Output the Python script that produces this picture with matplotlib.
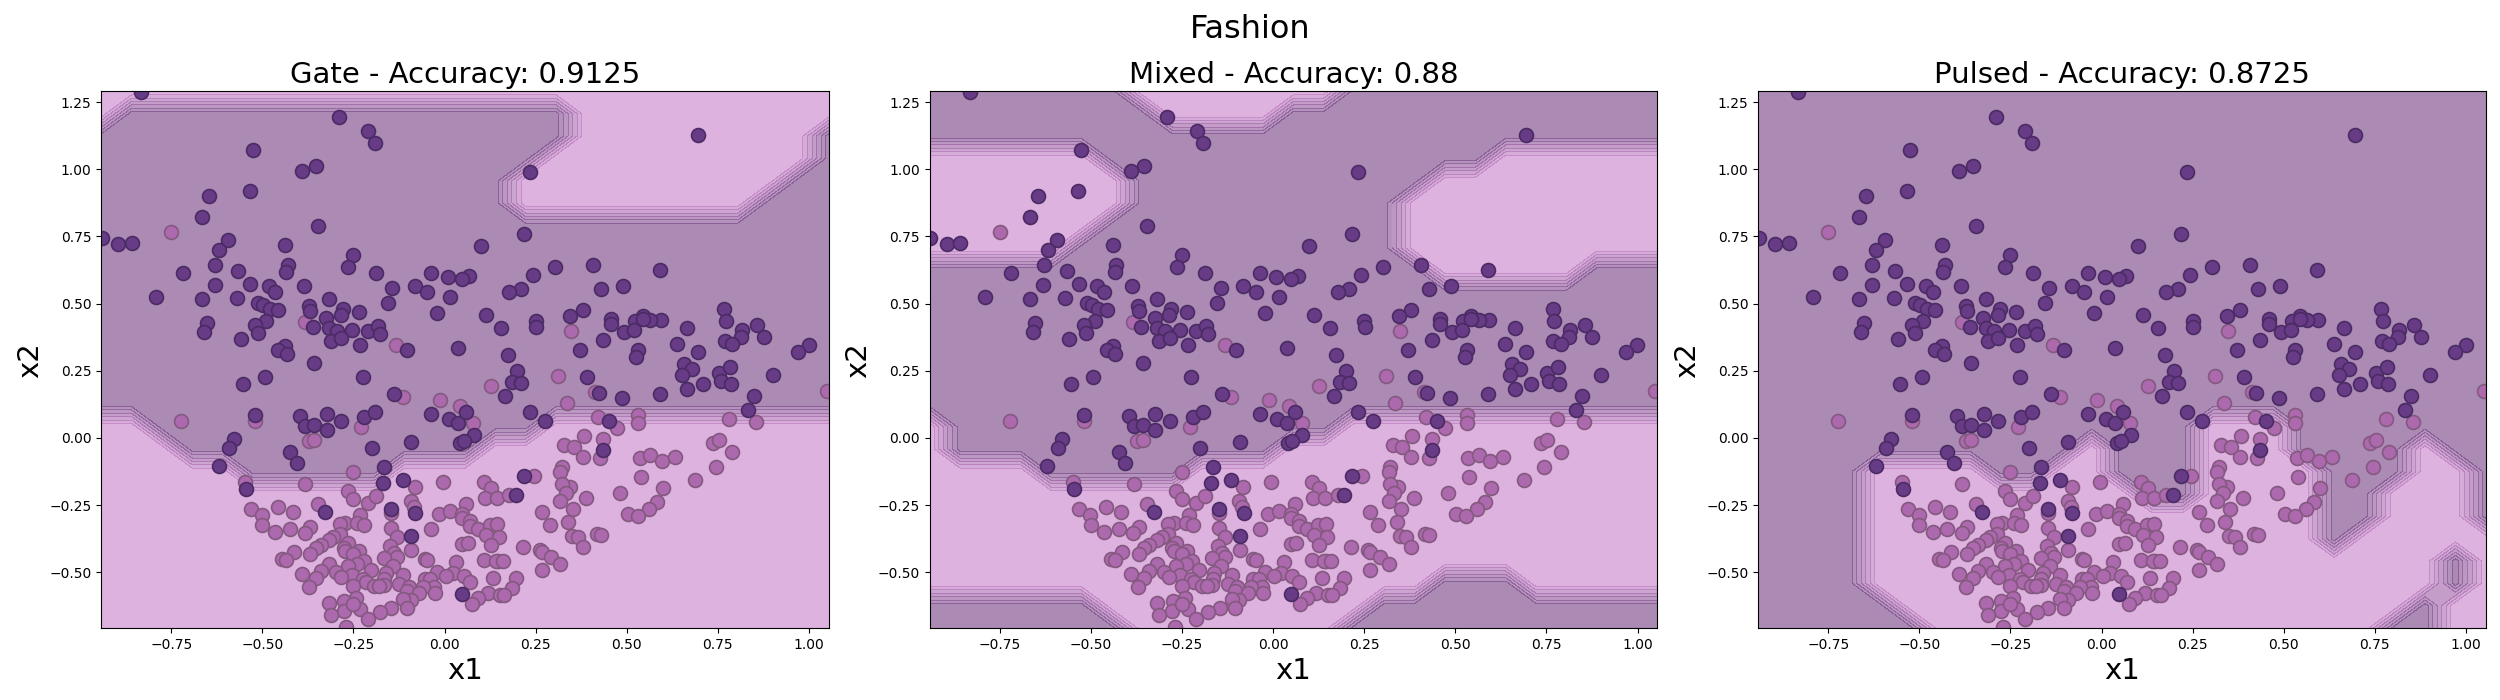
import numpy as np
import matplotlib
matplotlib.use("Agg")
import matplotlib.pyplot as plt
from matplotlib.colors import LinearSegmentedColormap

FIG_TITLE = "Fashion"
PANEL_NAMES = ["Gate", "Mixed", "Pulsed"]
PANEL_ACC = ["0.9125", "0.88", "0.8725"]
X_RANGE = (-0.942, 1.054)
Y_RANGE = (-0.707, 1.29)
GRID_N = 25

# points of the darker class (x1, x2)
DARK_X1 = [-0.833,-0.291,-0.209,-0.192,-0.527,-0.354,-0.391,-0.535,-0.646,-0.667,-0.346,-0.941,-0.896,-0.859,-0.594,-0.619,-0.439,0.099,-0.250,-0.431,-0.629,-0.264,-0.435,-0.719,-0.566,-0.187,-0.037,0.008,0.067,0.048,-0.631,-0.533,-0.483,-0.387,-0.464,-0.143,-0.082,-0.047,-0.791,-0.667,-0.571,-0.511,-0.497,-0.318,0.016,-0.154,-0.371,-0.480,-0.456,-0.368,-0.280,-0.236,-0.285,-0.022,0.113,-0.325,-0.653,-0.489,-0.519,-0.659,-0.513,-0.362,-0.318,-0.296,-0.255,-0.211,-0.184,-0.178,0.156,-0.560,-0.313,-0.283,-0.439,-0.456,-0.233,-0.102,0.038,
0.694,0.233,0.217,0.302,0.406,0.590,0.242,0.209,0.178,0.428,0.489,0.379,0.345,0.768,0.544,0.458,0.593,0.565,0.522,0.544,0.771,0.250,0.252,0.458,0.664,0.856,0.815,0.812,0.491,0.519,0.876,0.436,0.769,0.790,0.637,0.371,0.532,0.694,0.999,0.969,
-0.433,-0.357,-0.494,-0.225,-0.554,-0.140,-0.519,-0.396,-0.324,-0.220,-0.191,-0.036,0.011,0.038,0.060,-0.382,-0.357,-0.283,-0.324,0.080,-0.579,-0.591,-0.091,0.041,0.052,-0.200,-0.423,-0.406,-0.620,-0.165,-0.170,-0.115,-0.546,-0.148,-0.327,-0.080,-0.091,0.049,
0.200,0.184,0.209,0.167,0.233,0.275,0.390,0.423,0.486,0.590,0.450,0.436,0.217,0.195,0.656,0.678,0.651,0.664,0.708,0.752,0.782,0.758,0.785,0.900,0.848,0.832,0.173,0.526]
DARK_X2 = [1.289,1.194,1.143,1.097,1.072,1.011,0.993,0.918,0.901,0.823,0.788,0.743,0.721,0.725,0.736,0.699,0.717,0.715,0.680,0.643,0.643,0.635,0.617,0.614,0.622,0.614,0.614,0.598,0.602,0.591,0.568,0.572,0.565,0.565,0.542,0.557,0.565,0.544,0.524,0.516,0.520,0.501,0.494,0.516,0.524,0.501,0.490,0.479,0.475,0.472,0.479,0.468,0.457,0.464,0.457,0.447,0.427,0.436,0.419,0.393,0.390,0.412,0.408,0.397,0.401,0.397,0.416,0.386,0.408,0.367,0.360,0.371,0.343,0.328,0.346,0.328,0.336,
1.127,0.989,0.758,0.635,0.643,0.624,0.606,0.553,0.544,0.555,0.565,0.475,0.453,0.480,0.453,0.442,0.438,0.438,0.434,0.442,0.434,0.434,0.412,0.423,0.408,0.421,0.401,0.375,0.393,0.401,0.375,0.364,0.360,0.349,0.351,0.328,0.328,0.319,0.346,0.321,
0.313,0.278,0.226,0.226,0.201,0.163,0.084,0.081,0.088,0.077,0.096,0.088,0.069,0.055,0.096,0.043,0.047,0.062,0.029,0.010,-0.005,-0.038,-0.016,-0.020,-0.012,-0.038,-0.052,-0.094,-0.105,-0.109,-0.169,-0.158,-0.191,-0.266,-0.277,-0.280,-0.365,-0.582,
0.249,0.207,0.203,0.156,0.096,0.062,0.226,0.166,0.147,0.163,0.062,-0.046,-0.143,-0.213,0.275,0.255,0.236,0.184,0.200,0.242,0.263,0.211,0.200,0.233,0.155,0.103,0.308,0.303]

# points of the lighter class (x1, x2)
LIGHT_X1 = [-0.750,-0.384,-0.132,0.348,-0.012,-0.115,0.126,0.043,0.078,-0.722,-0.519,-0.229,-0.373,-0.357,-0.250,-0.549,-0.382,-0.266,-0.250,-0.211,-0.187,-0.082,-0.005,0.107,0.126,0.110,0.143,-0.093,-0.346,-0.085,-0.532,-0.458,-0.417,-0.502,-0.148,-0.014,0.016,0.060,0.049,-0.231,-0.500,-0.272,-0.288,-0.239,-0.220,0.049,0.071,0.071,0.093,-0.036,0.124,0.145,-0.148,-0.423,-0.368,-0.464,-0.384,-0.288,-0.305,-0.318,-0.131,0.113,0.148,-0.266,0.126,-0.340,-0.354,-0.277,-0.272,-0.236,-0.151,0.049,0.063,-0.091,-0.414,-0.368,-0.250,-0.140,-0.131,-0.167,-0.445,-0.434,-0.222,-0.055,-0.048,0.107,0.146,-0.239,0.030,-0.318,-0.266,-0.142,-0.340,-0.203,-0.299,-0.161,-0.255,-0.390,-0.022,0.022,0.003,-0.285,-0.113,0.052,0.133,-0.354,-0.225,-0.217,-0.055,-0.039,-0.165,0.071,-0.371,-0.124,-0.099,-0.250,-0.195,-0.167,-0.181,-0.030,-0.060,-0.027,-0.104,0.118,0.151,-0.242,-0.069,0.093,-0.093,-0.113,-0.275,0.074,-0.318,-0.147,-0.277,-0.233,-0.178,-0.104,-0.313,-0.211,-0.270,-0.250,
0.310,0.414,0.335,0.420,0.532,0.532,0.472,0.780,0.854,1.048,0.382,0.436,0.736,0.752,0.790,0.328,0.354,0.379,0.427,0.535,0.565,0.596,0.631,0.321,0.318,0.244,0.744,0.538,0.688,0.343,0.321,0.598,0.332,0.480,0.318,0.387,0.178,0.582,0.351,0.560,0.266,0.502,0.530,0.340,0.288,0.417,0.428,0.349,0.365,0.379,0.214,0.261,0.266,0.293,0.318,0.266,0.140,0.159,0.195,0.184,0.162]
LIGHT_X2 = [0.766,0.431,0.346,0.397,0.141,0.151,0.194,0.119,0.055,0.062,0.062,0.040,-0.012,-0.007,-0.128,-0.164,-0.173,-0.197,-0.228,-0.243,-0.217,-0.184,-0.165,-0.164,-0.186,-0.223,-0.223,-0.235,-0.247,-0.256,-0.266,-0.255,-0.277,-0.288,-0.280,-0.284,-0.273,-0.247,-0.284,-0.288,-0.324,-0.318,-0.321,-0.317,-0.325,-0.299,-0.309,-0.329,-0.340,-0.340,-0.325,-0.321,-0.336,-0.340,-0.333,-0.351,-0.355,-0.359,-0.370,-0.380,-0.370,-0.362,-0.370,-0.389,-0.400,-0.400,-0.411,-0.411,-0.419,-0.419,-0.403,-0.396,-0.391,-0.417,-0.426,-0.433,-0.433,-0.427,-0.444,-0.448,-0.452,-0.455,-0.459,-0.452,-0.455,-0.455,-0.459,-0.470,-0.463,-0.470,-0.478,-0.478,-0.496,-0.493,-0.500,-0.504,-0.510,-0.506,-0.500,-0.504,-0.515,-0.518,-0.510,-0.515,-0.522,-0.522,-0.526,-0.537,-0.526,-0.526,-0.526,-0.537,-0.556,-0.544,-0.555,-0.550,-0.551,-0.546,-0.550,-0.554,-0.554,-0.578,-0.568,-0.578,-0.586,-0.595,-0.578,-0.595,-0.604,-0.600,-0.608,-0.619,-0.614,-0.634,-0.642,-0.638,-0.648,-0.634,-0.660,-0.675,-0.705,-0.616,
0.231,0.170,0.129,0.077,0.084,0.055,0.036,0.069,0.058,0.174,0.006,-0.005,-0.020,-0.007,-0.053,-0.027,-0.035,-0.072,-0.076,-0.076,-0.065,-0.087,-0.072,-0.109,-0.128,-0.143,-0.109,-0.146,-0.158,-0.182,-0.172,-0.187,-0.206,-0.206,-0.236,-0.225,-0.213,-0.240,-0.266,-0.266,-0.277,-0.281,-0.292,-0.314,-0.325,-0.359,-0.362,-0.366,-0.370,-0.407,-0.407,-0.415,-0.426,-0.444,-0.470,-0.493,-0.459,-0.459,-0.522,-0.560,-0.586]

# decision maps: for each grid column, the row runs that belong to the lighter class
GATE_LIGHT = [[(0,9),(23,24)],[(0,9),(24,24)],[(0,8),(24,24)],[(0,7),(24,24)],[(0,7),(24,24)],
              [(0,6),(24,24)],[(0,6),(24,24)],[(0,6),(24,24)],[(0,6),(24,24)],[(0,6),(24,24)],
              [(0,7),(24,24)],[(0,7),(24,24)],[(0,7),(24,24)],[(0,8),(24,24)],[(0,8),(19,20),(24,24)],
              [(0,9),(19,21),(24,24)],[(0,9),(19,24)],[(0,9),(19,24)],[(0,9),(19,24)],[(0,9),(19,24)],
              [(0,9),(19,24)],[(0,9),(19,24)],[(0,9),(20,24)],[(0,9),(21,24)],[(0,9),(23,24)]]
MIXED_LIGHT = [[(2,9),(17,21)],[(2,7),(17,21)],[(2,7),(17,21)],[(2,7),(17,21)],[(2,6),(17,21)],
               [(2,6),(18,21)],[(1,6),(19,20)],[(0,6),(24,24)],[(0,6),(23,24)],[(0,7),(23,24)],
               [(0,7),(23,24)],[(0,7),(23,24)],[(0,8),(24,24)],[(0,8),(24,24)],[(1,9)],
               [(2,9)],[(2,9),(17,19)],[(3,9),(16,20)],[(3,9),(16,20)],[(3,9),(16,21)],
               [(2,9),(16,21)],[(2,9),(16,21)],[(2,9),(17,21)],[(2,9),(17,21)],[(2,9),(17,21)]]
PULSED_LIGHT = [[],[],[],[],[(2,7)],
                [(1,7)],[(0,7)],[(0,7)],[(0,6)],[(0,6)],
                [(0,7)],[(0,8)],[(0,6)],[(0,5)],[(0,5)],
                [(0,9)],[(0,9)],[(0,9)],[(0,7)],[(0,3)],
                [(0,4)],[(1,6)],[(2,8)],[(0,1),(4,7)],[(0,4)]]
PANEL_LIGHT = [GATE_LIGHT, MIXED_LIGHT, PULSED_LIGHT]

plt.rcParams["font.family"] = "DejaVu Sans"
cmap = LinearSegmentedColormap.from_list("bg", ["#C87FCB", "#733E82"])

x_grid = np.linspace(X_RANGE[0], X_RANGE[1], GRID_N)
y_grid = np.linspace(Y_RANGE[0], Y_RANGE[1], GRID_N)

fig, axes = plt.subplots(1, 3, figsize=(25, 7), dpi=100)
fig.subplots_adjust(left=101.3/2500, right=2485.7/2500, top=1-91.3/700, bottom=1-628/700, wspace=0.139)

for ax, name, acc, runs in zip(axes, PANEL_NAMES, PANEL_ACC, PANEL_LIGHT):
    z = np.ones((GRID_N, GRID_N))
    for i, col in enumerate(runs):
        for lo, hi in col:
            z[lo:hi+1, i] = 0
    ax.contourf(x_grid, y_grid, z, cmap=cmap, alpha=0.6, vmin=0.075, vmax=0.975)
    ax.scatter(LIGHT_X1, LIGHT_X2, s=100, c="#AD69AD", edgecolors="#83597F", linewidths=1.2)
    ax.scatter(DARK_X1, DARK_X2, s=100, c="#673B85", edgecolors="#4A2B64", linewidths=1.2)
    ax.set_title(f"{name} - Accuracy: {acc}", fontsize=21)
    ax.set_xlabel("x1", fontsize=21)
    ax.set_ylabel("x2", fontsize=21)

fig.suptitle(FIG_TITLE, fontsize=23, y=0.958, va="center")
fig.savefig("out.png", dpi=100)
